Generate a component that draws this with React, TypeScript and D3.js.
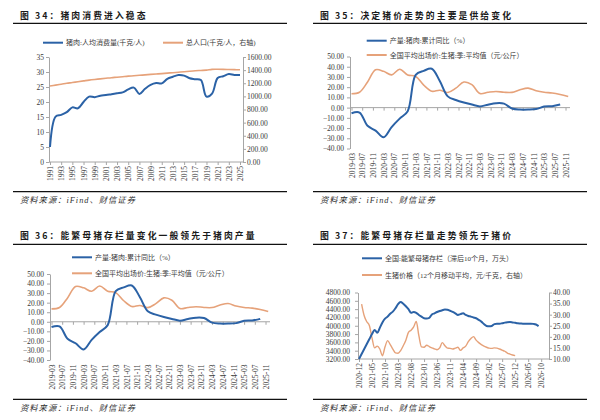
import React, { useEffect, useRef } from "react";
import * as d3 from "d3";

// ---- Fig 34: pork consumption per capita vs population ----
const years = [
  1991, 1992, 1993, 1994, 1995, 1996, 1997, 1998, 1999, 2000,
  2001, 2002, 2003, 2004, 2005, 2006, 2007, 2008, 2009, 2010,
  2011, 2012, 2013, 2014, 2015, 2016, 2017, 2018, 2019, 2020,
  2021, 2022, 2023, 2024, 2025,
];
const porkPerCapita = [
  5.0, 15.1, 15.7, 16.6, 18.2, 17.9, 20.0, 21.8, 21.6, 22.1,
  22.3, 22.6, 22.9, 23.2, 24.2, 24.8, 22.7, 24.4, 25.7, 26.3,
  26.2, 27.7, 28.4, 29.0, 28.8, 27.9, 27.6, 27.3, 21.8, 22.8,
  28.0, 28.6, 29.3, 29.0, 29.0,
];
const population = [
  1158, 1172, 1185, 1199, 1211, 1224, 1236, 1248, 1258, 1267,
  1276, 1285, 1292, 1300, 1308, 1314, 1321, 1328, 1335, 1341,
  1347, 1354, 1361, 1368, 1375, 1383, 1390, 1395, 1400, 1412,
  1413, 1412, 1410, 1408, 1405,
];
const yearTicks = [
  1991, 1993, 1995, 1997, 1999, 2001, 2003, 2005, 2007, 2009,
  2011, 2013, 2015, 2017, 2019, 2021, 2023, 2025,
];

// ---- Fig 35 / 36: pork output YoY vs quarterly hog price ----
const quarters = [
  "2019-03", "2019-06", "2019-09", "2019-12", "2020-03", "2020-06", "2020-09", "2020-12",
  "2021-03", "2021-06", "2021-09", "2021-12", "2022-03", "2022-06", "2022-09", "2022-12",
  "2023-03", "2023-06", "2023-09", "2023-12", "2024-03", "2024-06", "2024-09", "2024-12",
  "2025-03", "2025-06", "2025-09", "2025-12",
];
const outputYoY = [
  -5.5, -4.8, -17.8, -22.5, -29.0, -19.0, -10.8, -3.5,
  32.0, 36.0, 38.0, 26.0, 11.0, 7.5, 5.0, 3.0,
  1.2, 2.9, 4.3, 3.9, -0.9, -1.9, -1.9, -1.4,
  1.0, 1.4, 3.0,
];
const hogPriceQ = [
  13.5, 15.0, 25.0, 37.0, 35.5, 32.0, 37.5, 32.0,
  30.5, 22.0, 16.0, 17.0, 14.8, 19.0, 25.0, 22.5,
  13.8, 15.0, 15.8, 15.0, 14.9, 17.5, 19.1, 16.5,
  15.0, 14.3, 12.8, 10.8,
];
const supplyTicks = [
  "2019-03", "2019-07", "2019-11", "2020-03", "2020-07", "2020-11", "2021-03",
  "2021-07", "2021-11", "2022-03", "2022-07", "2022-11", "2023-03", "2023-07",
  "2023-11", "2024-03", "2024-07", "2024-11", "2025-03", "2025-07", "2025-11",
];

// ---- Fig 37: sow inventory (lagged 10m) vs hog price 12m MA ----
const sowStart = "2020-12";
const sowInventory = [
  3200, 3320, 3440, 3560, 3680, 3800, 3900, 3830, 3950, 4080,
  4170, 4220, 4290, 4340, 4420, 4520, 4570, 4530, 4470, 4400,
  4310, 4330, 4310, 4260, 4220, 4180, 4175, 4190, 4270, 4300,
  4330, 4355, 4375, 4390, 4385, 4360, 4335, 4300, 4260, 4280,
  4300, 4260, 4235, 4220, 4200, 4180, 4140, 4100, 4040, 3995,
  3985, 3995, 4040, 4050, 4050, 4060, 4075, 4085, 4090, 4080,
  4070, 4060, 4055, 4050, 4050, 4050, 4050, 4045, 4030, 3990,
];
const priceStart = "2021-01";
const hogPriceMA = [
  34.8, 29.5, 26.8, 25.0, 19.5, 15.0, 15.8, 14.5, 11.5, 15.5,
  18.3, 16.5, 14.5, 12.8, 12.6, 13.8, 16.0, 18.5, 22.0, 23.0,
  24.5, 26.9, 20.5, 15.5, 15.3, 16.2, 15.6, 15.0, 14.6, 14.2,
  15.0, 17.4, 16.0, 14.9, 14.8, 14.5, 14.9, 15.3, 13.9, 15.0,
  15.8, 17.8, 19.2, 20.1, 18.5, 17.4, 16.5, 15.8, 15.3, 14.9,
  14.8, 15.0, 14.9, 14.5, 14.0, 13.5, 12.7, 12.2, 11.8, 11.5,
];
const sowTicks = [
  "2020-12", "2021-05", "2021-10", "2022-03", "2022-08", "2023-01", "2023-06", "2023-11",
  "2024-04", "2024-09", "2025-02", "2025-07", "2025-12", "2026-05", "2026-10",
];

const BLUE = "#2b62a6";
const ORANGE = "#e6a27a";
const AXIS = "#a6a6a6";
const TXT = "#3a3a3a";
const SERIF = "'Liberation Serif', 'Times New Roman', 'Noto Sans CJK SC', serif";
const TITLE_FONT = "'Noto Sans CJK SC', sans-serif";

type G = d3.Selection<SVGGElement, unknown, null, undefined>;

function monthIndex(label: string, base: string) {
  const [y, m] = label.split("-").map(Number);
  const [by, bm] = base.split("-").map(Number);
  return (y - by) * 12 + (m - bm);
}

function styleAxis(g: G) {
  g.attr("font-size", 7.5).attr("font-family", SERIF);
  g.select(".domain").attr("stroke", AXIS);
  g.selectAll(".tick line").attr("stroke", AXIS);
  g.selectAll(".tick text").attr("fill", TXT);
}

function rotateLabels(g: G, gap: number) {
  g.selectAll<SVGTextElement, unknown>(".tick text")
    .attr("transform", "rotate(-90)")
    .attr("text-anchor", "end")
    .attr("x", -gap)
    .attr("y", 0)
    .attr("dy", "0.35em");
}

function frame(svg: G, ox: number, title: string, titleY: number, ruleY: number, bottomY: number) {
  svg.append("text")
    .attr("x", ox + 20).attr("y", titleY)
    .attr("font-family", TITLE_FONT).attr("font-weight", 700)
    .attr("font-size", 8.8).attr("letter-spacing", 2.1).attr("fill", "#1a1a1a")
    .text(title);
  [ruleY, bottomY].forEach((y) =>
    svg.append("line")
      .attr("x1", ox + 13).attr("x2", ox + 287).attr("y1", y).attr("y2", y)
      .attr("stroke", "#111").attr("stroke-width", 1.3));
  svg.append("text")
    .attr("x", ox + 20).attr("y", bottomY + 11.5)
    .attr("font-family", SERIF).attr("font-style", "italic")
    .attr("font-size", 8.3).attr("letter-spacing", 1).attr("fill", "#333")
    .text("资料来源：iFind、财信证券");
}

function legendItem(svg: G, x: number, y: number, color: string, label: string) {
  svg.append("line")
    .attr("x1", x).attr("x2", x + 20).attr("y1", y).attr("y2", y)
    .attr("stroke", color).attr("stroke-width", 2);
  svg.append("text")
    .attr("x", x + 23).attr("y", y + 2.5)
    .attr("font-family", SERIF).attr("font-size", 7).attr("fill", TXT)
    .text(label);
}

function drawConsumption(svg: G) {
  frame(svg, 0, "图 34：猪肉消费进入稳态", 18.5, 23.3, 191.7);
  legendItem(svg, 43, 42.7, BLUE, "猪肉:人均消费量(千克/人)");
  legendItem(svg, 163, 42.7, ORANGE, "总人口(千克/人，右轴)");

  const x = d3.scaleLinear().domain([1991, 2025]).range([50, 240]);
  const yL = d3.scaleLinear().domain([0, 35]).range([162, 57]);
  const yR = d3.scaleLinear().domain([0, 1600]).range([162, 57]);

  svg.append("g").attr("transform", "translate(49,0)")
    .call(d3.axisLeft(yL).tickValues(d3.range(0, 36, 5)).tickSize(3).tickSizeOuter(0).tickPadding(2).tickFormat(d3.format("d")))
    .call(styleAxis);
  svg.append("g").attr("transform", "translate(243,0)")
    .call(d3.axisRight(yR).tickValues(d3.range(0, 1601, 200)).tickSize(3).tickSizeOuter(0).tickPadding(1).tickFormat(d3.format(".2f")))
    .call(styleAxis);
  svg.append("g").attr("transform", "translate(0,162)")
    .call(d3.axisBottom(x).tickValues(yearTicks).tickSize(3).tickSizeOuter(0).tickFormat(d3.format("d")))
    .call(styleAxis)
    .call((g) => g.select(".domain").remove())
    .call((g) => rotateLabels(g, 4));
  svg.append("line").attr("x1", 49).attr("x2", 243).attr("y1", 162).attr("y2", 162).attr("stroke", AXIS);

  const pop = d3.line<number>().x((_, i) => x(years[i])).y((d) => yR(d)).curve(d3.curveCatmullRom);
  svg.append("path").datum(population).attr("d", pop)
    .attr("fill", "none").attr("stroke", ORANGE).attr("stroke-width", 1.6);
  const pork = d3.line<number>().x((_, i) => x(years[i])).y((d) => yL(d)).curve(d3.curveCatmullRom);
  svg.append("path").datum(porkPerCapita).attr("d", pork)
    .attr("fill", "none").attr("stroke", BLUE).attr("stroke-width", 2);
}

interface SupplyGeo {
  ox: number; title: string; titleY: number; ruleY: number; bottomY: number;
  legendX: number; legendY1: number; legendY2: number; top: number; bottom: number;
}

function drawSupply(svg: G, geo: SupplyGeo) {
  const { ox } = geo;
  frame(svg, ox, geo.title, geo.titleY, geo.ruleY, geo.bottomY);

  const x = d3.scaleLinear().domain([0, 81]).range([ox + 51.5, ox + 268.2]);
  const y = d3.scaleLinear().domain([-40, 50]).range([geo.bottom, geo.top]);

  svg.append("g").attr("transform", `translate(${ox + 50},0)`)
    .call(d3.axisLeft(y).tickValues(d3.range(-40, 51, 10)).tickSize(3).tickSizeOuter(0).tickPadding(3).tickFormat(d3.format(".2f")))
    .call(styleAxis);

  const tickPos = supplyTicks.map((t) => monthIndex(t, quarters[0]));
  svg.append("g").attr("transform", `translate(0,${y(0)})`)
    .call(d3.axisBottom(x).tickValues(tickPos).tickSize(3).tickSizeOuter(0).tickFormat(() => ""))
    .call(styleAxis)
    .call((g) => g.select(".domain").remove());
  svg.append("line").attr("x1", ox + 50).attr("x2", ox + 270).attr("y1", y(0)).attr("y2", y(0)).attr("stroke", AXIS);
  svg.append("g").attr("transform", `translate(0,${geo.bottom})`)
    .call(d3.axisBottom(x).tickValues(tickPos).tickSize(0).tickFormat((_, i) => supplyTicks[i]))
    .call(styleAxis)
    .call((g) => g.select(".domain").remove())
    .call((g) => rotateLabels(g, 4.5));

  const qx = (i: number) => x(monthIndex(quarters[i], quarters[0]));
  const line = d3.line<number>().x((_, i) => qx(i)).y((d) => y(d)).curve(d3.curveCatmullRom);
  svg.append("path").datum(hogPriceQ).attr("d", line)
    .attr("fill", "none").attr("stroke", ORANGE).attr("stroke-width", 1.6);
  svg.append("path").datum(outputYoY).attr("d", line)
    .attr("fill", "none").attr("stroke", BLUE).attr("stroke-width", 2);

  legendItem(svg, geo.legendX, geo.legendY1, BLUE, "产量:猪肉:累计同比（%）");
  legendItem(svg, geo.legendX, geo.legendY2, ORANGE, "全国平均出场价:生猪:季:平均值（元/公斤）");
}

function drawSows(svg: G) {
  const ox = 300;
  frame(svg, ox, "图 37：能繁母猪存栏量走势领先于猪价", 238.5, 244.3, 399.3);
  legendItem(svg, 362, 258.3, BLUE, "全国:能繁母猪存栏（滞后10个月，万头）");
  legendItem(svg, 362, 275, ORANGE, "生猪价格（12个月移动平均，元/千克，右轴）");

  const x = d3.scaleLinear().domain([0, 73]).range([359, 549]);
  const yL = d3.scaleLinear().domain([3200, 4800]).range([359, 292.5]);
  const yR = d3.scaleLinear().domain([10, 40]).range([359, 292.5]);

  svg.append("g").attr("transform", "translate(358,0)")
    .call(d3.axisLeft(yL).tickValues(d3.range(3200, 4801, 200)).tickSize(3).tickSizeOuter(0).tickPadding(5).tickFormat(d3.format(".2f")))
    .call(styleAxis);
  svg.append("g").attr("transform", "translate(549,0)")
    .call(d3.axisRight(yR).tickValues(d3.range(10, 41, 5)).tickSize(3).tickSizeOuter(0).tickPadding(1).tickFormat(d3.format(".2f")))
    .call(styleAxis);
  svg.append("g").attr("transform", "translate(0,359)")
    .call(d3.axisBottom(x).tickValues(sowTicks.map((t) => monthIndex(t, sowStart))).tickSize(3).tickSizeOuter(0).tickFormat((_, i) => sowTicks[i]))
    .call(styleAxis)
    .call((g) => g.select(".domain").remove())
    .call((g) => rotateLabels(g, 4));
  svg.append("line").attr("x1", 358).attr("x2", 549).attr("y1", 359).attr("y2", 359).attr("stroke", AXIS);

  const p0 = monthIndex(priceStart, sowStart);
  const price = d3.line<number>().x((_, i) => x(p0 + i)).y((d) => yR(d)).curve(d3.curveMonotoneX);
  svg.append("path").datum(hogPriceMA).attr("d", price)
    .attr("fill", "none").attr("stroke", ORANGE).attr("stroke-width", 1.4);
  const sows = d3.line<number>().x((_, i) => x(i)).y((d) => yL(d)).curve(d3.curveMonotoneX);
  svg.append("path").datum(sowInventory).attr("d", sows)
    .attr("fill", "none").attr("stroke", BLUE).attr("stroke-width", 2);
}

export default function App() {
  const svgRef = useRef<SVGSVGElement | null>(null);

  useEffect(() => {
    if (!svgRef.current) return;
    const root = d3.select(svgRef.current);
    root.selectAll("*").remove();
    root.append("rect").attr("width", 600).attr("height", 420).attr("fill", "#fff");
    const svg = root.append("g") as unknown as G;

    drawConsumption(svg);
    drawSupply(svg, {
      ox: 300, title: "图 35：决定猪价走势的主要是供给变化", titleY: 18.5, ruleY: 23.3, bottomY: 191.7,
      legendX: 366.7, legendY1: 40.7, legendY2: 55, top: 56.5, bottom: 148.5,
    });
    drawSupply(svg, {
      ox: 0, title: "图 36：能繁母猪存栏量变化一般领先于猪肉产量", titleY: 238.5, ruleY: 244.3, bottomY: 399.3,
      legendX: 72, legendY1: 257.3, legendY2: 273.3, top: 274, bottom: 360,
    });
    drawSows(svg);
  }, []);

  return (
    <div style={{ position: "absolute", left: 0, top: 0 }}>
      <svg ref={svgRef} width={600} height={420} style={{ display: "block" }} />
    </div>
  );
}
